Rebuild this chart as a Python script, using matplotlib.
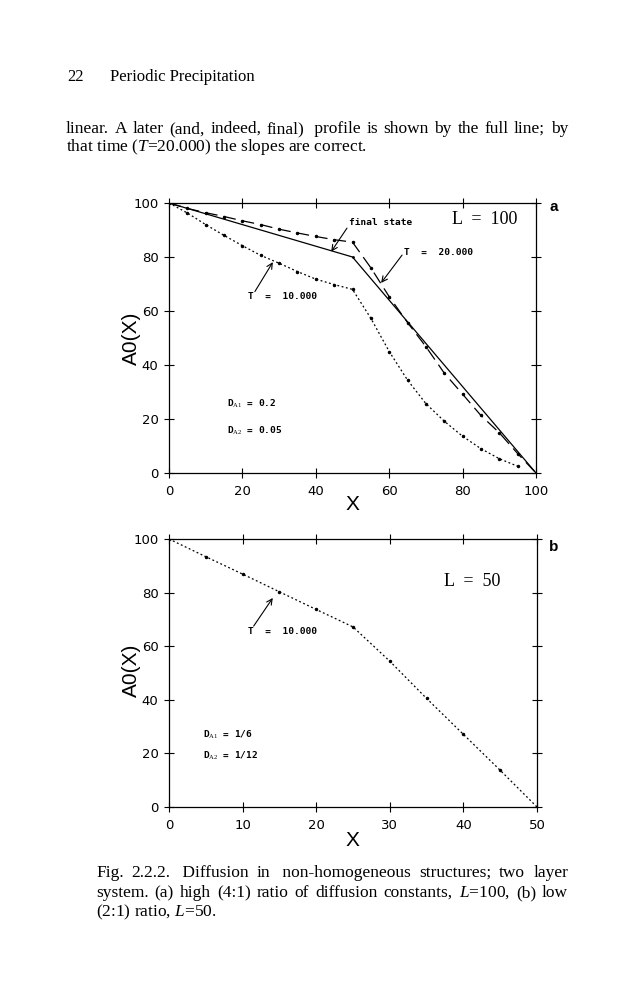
import numpy as np
import matplotlib
matplotlib.use('Agg')
import matplotlib.pyplot as plt

plt.rcParams['mathtext.fontset'] = 'custom'
plt.rcParams['mathtext.rm'] = 'Liberation Serif'
plt.rcParams['mathtext.it'] = 'Liberation Serif:italic'

# panel a: L = 100
xa = [0, 5, 10, 15, 20, 25, 30, 35, 40, 45, 50, 55, 60, 65, 70, 75, 80, 85, 90, 95, 100]
final_x = [0, 50, 100]
final_y = [100, 80, 0]
t20000 = [100, 98, 96.4, 95, 93.4, 92, 90.3, 88.9, 87.6, 86.4, 85.5,
          76, 65.3, 55.7, 46.8, 37, 29.2, 21.3, 14.9, 7.2, 0]
xa10 = xa[:-1]
t10000a = [100, 96.3, 92, 88, 84.2, 80.6, 77.7, 74.6, 71.8, 69.8, 68,
           57.3, 45, 34.4, 25.7, 19.2, 13.6, 9, 5.3, 2.5]

# panel b: L = 50
xb = [0, 5, 10, 15, 20, 25, 30, 35, 40, 45, 50]
t10000b = [100, 93.4, 86.9, 80.3, 73.7, 67.2, 54.4, 40.5, 27.1, 13.7, 0]

yticks = [0, 20, 40, 60, 80, 100]
xticks_a = [0, 20, 40, 60, 80, 100]
xticks_b = [0, 10, 20, 30, 40, 50]

W, H = 638, 1000
fig = plt.figure(figsize=(6.38, 10), dpi=100)
fig.patch.set_facecolor('white')

serif = 'Liberation Serif'
sans = 'Liberation Sans'
mono = 'DejaVu Sans Mono'
body = 12.5


def fx(px):
    return px / W


def fy(py):
    return 1 - py / H


def justify(words, y, x0, x1, size):
    texts = [fig.text(fx(x0), fy(y), w, family=serif, size=size, va='baseline',
                      ha='left') for w in words]
    r = fig.canvas.get_renderer()
    widths = [t.get_window_extent(r).width for t in texts]
    gap = (x1 - x0 - sum(widths)) / (len(words) - 1)
    x = x0
    for t, w in zip(texts, widths):
        t.set_x(fx(x))
        x += w + gap


def style_axes(ax, xticks, xmax):
    ax.set_xlim(0, xmax)
    ax.set_ylim(0, 100)
    ax.set_xticks(xticks)
    ax.set_yticks(yticks)
    ax.tick_params(direction='inout', length=7, width=0.8, top=True, right=True,
                   labelsize=9.5, pad=4)
    ax.tick_params(axis='x', pad=5)
    for lab in ax.get_xticklabels() + ax.get_yticklabels():
        lab.set_family('DejaVu Sans')
    for s in ax.spines.values():
        s.set_linewidth(0.9)


# page header and text
fig.text(fx(67), fy(81), '22', family=serif, size=12, va='baseline')
fig.text(fx(110), fy(81), 'Periodic Precipitation', family=serif, size=12, va='baseline')
justify(['linear.', 'A', 'later', '(and,', 'indeed,', 'final)', ' profile', 'is',
         'shown', 'by', 'the', 'full', 'line;', 'by'], 133, 66, 568, body)
fig.text(fx(66), fy(151), 'that time ($T$=20.000) the slopes are correct.',
         family=serif, size=body, va='baseline')

# panel a
ax1 = fig.add_axes([fx(169), fy(473), fx(536) - fx(169), fy(203) - fy(473)])
ax1.plot(final_x, final_y, '-', color='black', lw=0.9, marker='.', ms=2)
ax1.plot(xa, t20000, color='black', lw=0.9, ls=(0, (10, 5)), marker='.', ms=3)
ax1.plot(xa10, t10000a, color='black', lw=0.9, ls=(0, (1.5, 2)), marker='.', ms=3)
style_axes(ax1, xticks_a, 100)

ann = dict(family=mono, size=6.8, weight='bold')
arr = dict(arrowstyle='->', lw=0.8, color='black', shrinkA=0, shrinkB=0)
ax1.text(49, 92.6, 'final state', va='center', **ann)
ax1.annotate('', xy=(44.2, 82), xytext=(48.5, 90.7), arrowprops=arr)
ax1.text(64, 81.5, 'T  =  20.000', va='center', **ann)
ax1.annotate('', xy=(57.8, 70.4), xytext=(63.5, 80.7), arrowprops=arr)
ax1.text(21.5, 65.2, 'T  =  10.000', va='center', **ann)
ax1.annotate('', xy=(28.3, 78.1), xytext=(23.4, 67.2), arrowprops=arr)
ax1.text(15.8, 25.5, r'D$_{\rm A1}$ = 0.2', va='center', **ann)
ax1.text(15.8, 15.5, r'D$_{\rm A2}$ = 0.05', va='center', **ann)
ax1.text(77, 94, 'L  =  100', va='center', family=serif, size=13)
fig.text(fx(549), fy(207), 'a', family=sans, size=11, weight='bold', va='center')
fig.text(fx(352), fy(505), 'X', family=sans, size=15, ha='center', va='center')
fig.text(fx(131), fy(338), 'A0(X)', family=sans, size=15, ha='center', va='center',
         rotation=90)

# panel b
ax2 = fig.add_axes([fx(169), fy(807), fx(537) - fx(169), fy(539) - fy(807)])
ax2.plot(xb, t10000b, color='black', lw=0.9, ls=(0, (1.5, 2)), marker='.', ms=3)
style_axes(ax2, xticks_b, 50)
ax2.text(10.8, 65.3, 'T  =  10.000', va='center', **ann)
ax2.annotate('', xy=(14.1, 78), xytext=(11.5, 67.5), arrowprops=arr)
ax2.text(4.6, 26.9, r'D$_{\rm A1}$ = 1/6', va='center', **ann)
ax2.text(4.6, 19, r'D$_{\rm A2}$ = 1/12', va='center', **ann)
ax2.text(37.3, 84.3, 'L  =  50', va='center', family=serif, size=13)
fig.text(fx(549), fy(547), 'b', family=sans, size=11, weight='bold', va='center')
fig.text(fx(352), fy(840), 'X', family=sans, size=15, ha='center', va='center')
fig.text(fx(131), fy(670), 'A0(X)', family=sans, size=15, ha='center', va='center',
         rotation=90)

# caption
justify(['Fig.', '2.2.2.', ' Diffusion', 'in', ' non-homogeneous', 'structures;', 'two',
         'layer'], 877, 96, 568, body)
justify(['system.', '(a)', 'high', '(4:1)', 'ratio', 'of', 'diffusion', 'constants,',
         '$L$=100,', '(b)', 'low'], 897, 96, 568, body)
fig.text(fx(96), fy(916), '(2:1) ratio, $L$=50.', family=serif, size=body, va='baseline')

fig.savefig('out.png', dpi=100, facecolor='white')
